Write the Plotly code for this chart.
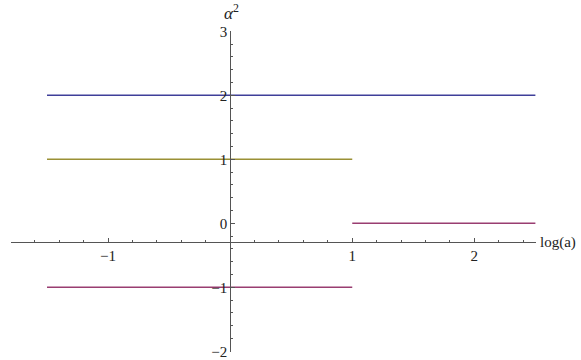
import plotly.graph_objects as go

# Data
series_names = ["blue", "yellow", "magenta_low", "magenta_high"]
x_starts = [-1.5, -1.5, -1.5, 1.0]
x_ends = [2.5, 1.0, 1.0, 2.5]
y_values = [2, 1, -1, 0]
colors = ["#3f3f99", "#9a9035", "#993d71", "#993d71"]

x_tickvals = [-1, 1, 2]
x_ticktext = ["\u22121", "1", "2"]
y_tickvals = [-2, -1, 0, 1, 2, 3]
y_ticktext = ["\u22122", "\u22121", "0", "1", "2", "3"]

x_range = [-1.795, 2.505]
y_range = [-2.01, 3.005]
x_cross = -0.294  # y value where x-axis sits
y_cross = 0.0     # x value where y-axis sits

fig = go.Figure()
for name, xs, xe, yv, c in zip(series_names, x_starts, x_ends, y_values, colors):
    fig.add_trace(go.Scatter(x=[xs, xe], y=[yv, yv], mode="lines",
                             line=dict(color=c, width=1.5), name=name,
                             showlegend=False, hoverinfo="skip"))

font = dict(family="Liberation Serif, Times New Roman, serif", size=15, color="#222")
axcol = "#555"

xpos = (x_cross - y_range[0]) / (y_range[1] - y_range[0])
ypos = (y_cross - x_range[0]) / (x_range[1] - x_range[0])

fig.update_layout(
    width=581, height=360,
    margin=dict(l=11, r=45, t=31, b=8, autoexpand=False),
    plot_bgcolor="white", paper_bgcolor="white",
    font=font,
    xaxis=dict(range=x_range, showgrid=False, zeroline=False, automargin=False,
               showline=True, linecolor=axcol, linewidth=1,
               anchor="free", position=xpos,
               tickvals=x_tickvals, ticktext=x_ticktext,
               ticks="inside", ticklen=4, tickcolor=axcol, tickwidth=1,
               minor=dict(dtick=0.2, tick0=0, ticks="inside", ticklen=2,
                          tickcolor=axcol, tickwidth=1, showgrid=False),
               tickfont=font),
    yaxis=dict(range=y_range, showgrid=False, zeroline=False, automargin=False,
               showline=True, linecolor=axcol, linewidth=1,
               anchor="free", position=ypos,
               tickvals=y_tickvals, ticktext=y_ticktext,
               ticks="inside", ticklen=4, tickcolor=axcol, tickwidth=1,
               minor=dict(dtick=0.2, tick0=0, ticks="inside", ticklen=2,
                          tickcolor=axcol, tickwidth=1, showgrid=False),
               tickfont=font),
    annotations=[
        dict(text="<i>\u03b1</i><sup>2</sup>", xref="paper", yref="paper",
             x=ypos, y=1.0, xanchor="center", yanchor="bottom",
             showarrow=False, font=dict(family=font["family"], size=17, color="#222"),
             xshift=1, yshift=6),
        dict(text="log(a)", xref="paper", yref="paper",
             x=1.0, y=xpos, xanchor="left", yanchor="middle",
             showarrow=False, font=font, xshift=2),
    ],
)

fig.write_html("out.html", config={"displayModeBar": False},
               post_script="document.body.style.margin='0';document.body.style.overflow='hidden';")
